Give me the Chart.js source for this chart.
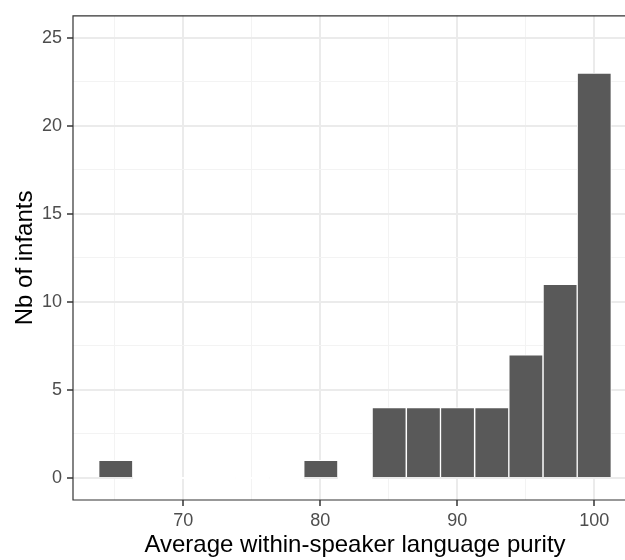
<!DOCTYPE html>
<html>
<head>
<meta charset="utf-8">
<script src="https://cdn.jsdelivr.net/npm/chart.js@4/dist/chart.umd.min.js"></script>
<style>
  html, body { margin: 0; padding: 0; background: #ffffff; overflow: hidden; }
  #wrap { position: relative; width: 625px; height: 560px; overflow: hidden; background: #ffffff; }
  #c { position: absolute; left: 0; top: 0; display: block; }
</style>
</head>
<body>
<div id="wrap"><canvas id="c" width="645" height="560"></canvas></div>
<script>
// ---- data ----
const binCenters = [65.07, 67.57, 70.06, 72.56, 75.05, 77.55, 80.04, 82.54, 85.03, 87.53, 90.02, 92.52, 95.01, 97.51, 100.0];
const infantCounts = [1, 0, 0, 0, 0, 0, 1, 0, 4, 4, 4, 4, 7, 11, 23];
const xTicks = [65, 70, 75, 80, 85, 90, 95, 100];
const xTickLabels = ['', '70', '', '80', '', '90', '', '100'];
const yTicks = [0, 2.5, 5, 7.5, 10, 12.5, 15, 17.5, 20, 22.5, 25];
const yTickLabels = ['0', '', '5', '', '10', '', '15', '', '20', '', '25'];
const xTitle = 'Average within-speaker language purity';
const yTitle = 'Nb of infants';

const MAJOR = '#EBEBEB', MINOR = '#F3F3F3', INK = '#333333', NONE = 'rgba(0,0,0,0)';
const BAR = '#595959';

// panel border (left, top, bottom; the right edge lies outside the visible page)
const panelBorder = {
  id: 'panelBorder',
  afterDatasetsDraw(chart) {
    const a = chart.chartArea, ctx = chart.ctx;
    ctx.save();
    ctx.strokeStyle = INK;
    ctx.lineWidth = 1.2;
    ctx.beginPath();
    ctx.moveTo(a.right + 20, a.top);
    ctx.lineTo(a.left, a.top);
    ctx.lineTo(a.left, a.bottom);
    ctx.lineTo(a.right + 20, a.bottom);
    ctx.stroke();
    ctx.restore();
  }
};

function kind(list, labels, c) {
  if (!c || !c.tick) return 0;
  const i = list.indexOf(c.tick.value);
  if (i < 0) return 0;
  return labels[i] !== '' ? 2 : 1;
}
const gridColor = (list, labels) => c => { const k = kind(list, labels, c); return k === 2 ? MAJOR : k === 1 ? MINOR : NONE; };
const gridWidth = (list, labels) => c => { const k = kind(list, labels, c); return k === 2 ? 2 : 1; };
const tickCol = (list, labels) => c => kind(list, labels, c) === 2 ? INK : NONE;

new Chart(document.getElementById('c'), {
  type: 'bar',
  data: {
    datasets: [{
      data: binCenters.map((c, i) => ({ x: c, y: infantCounts[i] })),
      backgroundColor: c => (c.raw && c.raw.y === 0) ? '#FFFFFF' : BAR,
      borderColor: '#FFFFFF',
      borderWidth: 1,
      minBarLength: 2,
      barPercentage: 1.0,
      categoryPercentage: 1.0
    }]
  },
  options: {
    responsive: false,
    animation: false,
    layout: { padding: { top: 8, right: 8, left: 0, bottom: 0 } },
    plugins: { legend: { display: false }, tooltip: { enabled: false } },
    scales: {
      x: {
        type: 'linear',
        offset: false,
        min: 61.95,
        max: 103.12,
        afterBuildTicks(s) { s.ticks = xTicks.map(v => ({ value: v })); },
        afterFit(s) { s.height = 60; },
        border: { display: false },
        grid: {
          offset: false,
          color: gridColor(xTicks, xTickLabels),
          lineWidth: gridWidth(xTicks, xTickLabels),
          tickColor: tickCol(xTicks, xTickLabels),
          tickWidth: 1.5,
          tickLength: 6,
          drawTicks: true
        },
        ticks: {
          autoSkip: false,
          maxRotation: 0,
          padding: 4,
          color: '#4D4D4D',
          font: { family: 'Liberation Sans', size: 18 },
          callback: (v) => { const i = xTicks.indexOf(v); return i >= 0 ? xTickLabels[i] : ''; }
        },
        title: {
          display: true,
          text: xTitle,
          color: '#000000',
          font: { family: 'Liberation Sans', size: 24, lineHeight: 1.2 },
          padding: { top: 0, bottom: 0 }
        }
      },
      y: {
        type: 'linear',
        min: -1.25,
        max: 26.25,
        afterBuildTicks(s) { s.ticks = yTicks.map(v => ({ value: v })); },
        afterFit(s) { s.width = 73; },
        border: { display: false },
        grid: {
          color: gridColor(yTicks, yTickLabels),
          lineWidth: gridWidth(yTicks, yTickLabels),
          tickColor: tickCol(yTicks, yTickLabels),
          tickWidth: 1.5,
          tickLength: 6,
          drawTicks: true
        },
        ticks: {
          autoSkip: false,
          padding: 5,
          color: '#4D4D4D',
          font: { family: 'Liberation Sans', size: 18 },
          callback: (v) => { const i = yTicks.indexOf(v); return i >= 0 ? yTickLabels[i] : ''; }
        },
        title: {
          display: true,
          text: yTitle,
          color: '#000000',
          font: { family: 'Liberation Sans', size: 24, lineHeight: 1.2 },
          padding: { top: 11, bottom: 0 }
        }
      }
    }
  },
  plugins: [panelBorder]
});
</script>
</body>
</html>
